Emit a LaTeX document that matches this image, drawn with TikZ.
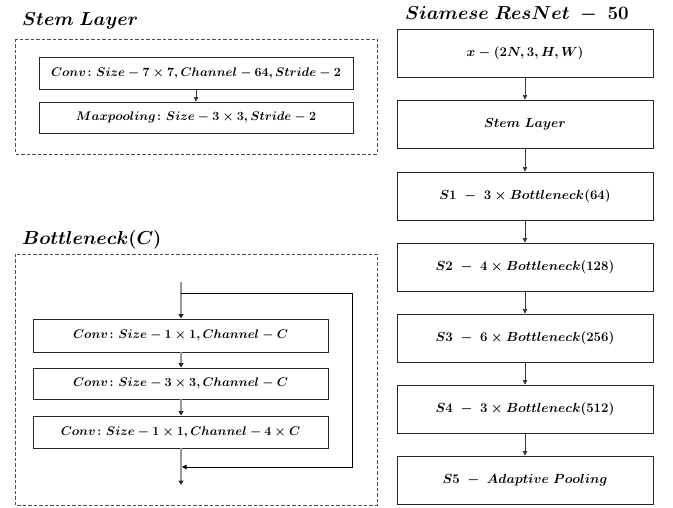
\RequirePackage{fix-cm}
\documentclass[tikz,border=0pt]{standalone}
\usepackage{amsmath}
\usetikzlibrary{arrows.meta}
\newcommand{\mlab}[1]{{\boldmath$#1$}}
\tikzset{
  blockbox/.style={draw=black!85, line width=0.9pt, rectangle, inner sep=0pt,
    font=\fontsize{12.5}{15}\selectfont},
  stagebox/.style={blockbox, minimum width=256pt, minimum height=48pt,
    font=\fontsize{13.2}{16}\selectfont},
  groupframe/.style={draw=black!70, line width=0.9pt, dash pattern=on 3.5pt off 2pt},
  titletext/.style={anchor=west, inner sep=0pt, font=\fontsize{18.8}{22}\selectfont},
  flow/.style={draw=black!80, line width=0.7pt, -{Triangle[length=4.5pt,width=4.5pt]}},
  greyflow/.style={draw=black!40, line width=1.6pt,
    -{Triangle[length=4.5pt,width=5pt,fill=black!85,color=black!85]}},
  skip/.style={draw=black, line width=0.9pt, -{Triangle[length=4.5pt,width=4.5pt]}}
}
\begin{document}
\begin{tikzpicture}[x=1pt,y=-1pt]
\useasboundingbox (0,0) rectangle (673,508);

% ---- Stem layer ----
\node[titletext] (stemtitle) at (22,21) {\mlab{Stem\ Layer}};
\draw[groupframe] (15,39) rectangle (377,154);
\node[blockbox, minimum width=314pt, minimum height=32pt] (conv7) at (196,73)
  {\mlab{Conv\colon Size-7\times7, Channel-64, Stride-2}};
\node[blockbox, minimum width=314pt, minimum height=31pt] (maxp) at (196,117.5)
  {\mlab{Maxpooling\colon Size-3\times3, Stride-2}};
\draw[flow] (conv7) -- (maxp);

% ---- Bottleneck block ----
\node[titletext] (bntitle) at (22,240) {\mlab{Bottleneck(C)}};
\draw[groupframe] (15,254) rectangle (377,505);
\node[blockbox, minimum width=295pt, minimum height=33pt] (b1) at (180.5,335.5)
  {\mlab{Conv\colon Size-1\times1, Channel-C}};
\node[blockbox, minimum width=295pt, minimum height=31pt] (b2) at (180.5,383.5)
  {\mlab{Conv\colon Size-3\times3, Channel-C}};
\node[blockbox, minimum width=295pt, minimum height=32pt] (b3) at (180.5,432)
  {\mlab{Conv\colon Size-1\times1, Channel-4\times C}};
\coordinate (bin) at (181,282);
\coordinate (bsplit) at (181,293);
\coordinate (bmerge) at (181,467);
\coordinate (bout) at (181,485);
\coordinate (bcornerA) at (352,293);
\coordinate (bcornerB) at (352,467);
\draw[greyflow] (bin) -- (b1.north -| bin);
\draw[greyflow] (b1.south -| bin) -- (b2.north -| bin);
\draw[greyflow] (b2.south -| bin) -- (b3.north -| bin);
\draw[greyflow] (b3.south -| bin) -- (bout);
\draw[skip] (bsplit) -- (bcornerA) -- (bcornerB) -- ([xshift=1pt]bmerge);

% ---- Siamese ResNet-50 ----
\node[titletext] (nettitle) at (405,14) {\mlab{Siamese\ ResNet\ -\ 50}};
\node[stagebox] (s0) at (525,53)  {\mlab{x-(2N,3,H,W)}};
\node[stagebox] (s1) at (525,124) {\mlab{Stem\ Layer}};
\node[stagebox] (s2) at (525,196) {\mlab{S1\ -\ 3\times Bottleneck(64)}};
\node[stagebox] (s3) at (525,267) {\mlab{S2\ -\ 4\times Bottleneck(128)}};
\node[stagebox] (s4) at (525,338) {\mlab{S3\ -\ 6\times Bottleneck(256)}};
\node[stagebox] (s5) at (525,409) {\mlab{S4\ -\ 3\times Bottleneck(512)}};
\node[stagebox] (s6) at (525,480) {\mlab{S5\ -\ Adaptive\ Pooling}};
\foreach \a/\b in {s0/s1, s1/s2, s2/s3, s3/s4, s4/s5, s5/s6}
  \draw[flow] (\a) -- (\b);
\end{tikzpicture}
\end{document}
